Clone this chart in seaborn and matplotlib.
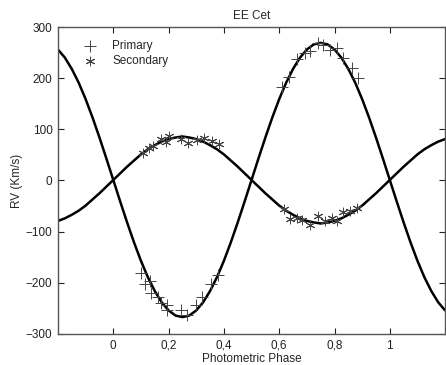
import numpy as np
import pandas as pd
import matplotlib
matplotlib.use('Agg')
from matplotlib import pyplot as plt
import seaborn as sns

prim_phase = [0.100, 0.114, 0.133, 0.136, 0.160, 0.172, 0.193, 0.196, 0.244, 0.265, 0.298, 0.322, 0.355, 0.380,
              0.610, 0.634, 0.664, 0.694, 0.712, 0.742, 0.760, 0.784, 0.808, 0.832, 0.862, 0.884]
prim_rv = [-181, -202, -196, -219, -228, -240, -243, -253, -254, -263, -243, -227, -202, -185,
           183, 203, 237, 249, 254, 268, 265, 255, 258, 239, 219, 200]

sec_phase = [0.106, 0.130, 0.144, 0.172, 0.190, 0.202, 0.244, 0.271, 0.304, 0.328, 0.358, 0.382,
             0.616, 0.640, 0.664, 0.682, 0.712, 0.742, 0.766, 0.790, 0.808, 0.832, 0.856, 0.880]
sec_rv = [53, 63, 67, 82, 76, 87, 82, 74, 79, 84, 78, 71,
          -56, -75, -74, -77, -87, -69, -80, -74, -79, -62, -60, -53]

# フィット曲線（-0.2〜1.2、0.025刻みで読み取り）
curve_phase = np.linspace(-0.2, 1.2, 57)
curve_prim = [256, 240, 218, 191, 159, 123, 84, 43, 1, -41, -82, -121, -157, -189, -216, -238, -254, -264, -267,
              -264, -254, -238, -216, -189, -157, -121, -82, -41, 1, 43, 84, 123, 159, 191, 218, 240, 256, 266, 269,
              266, 256, 240, 218, 191, 159, 123, 84, 43, 1, -41, -82, -121, -157, -189, -216, -238, -254]
curve_sec = [-79, -74, -67, -59, -49, -37, -25, -12, 1, 14, 27, 39, 51, 61, 69, 76, 81, 84, 86,
             84, 81, 76, 69, 61, 51, 39, 27, 14, 1, -12, -25, -37, -49, -59, -67, -74, -79, -82, -84,
             -82, -79, -74, -67, -59, -49, -37, -25, -12, 1, 14, 27, 39, 51, 61, 69, 76, 81]

x_ticks = [0, 0.2, 0.4, 0.6, 0.8, 1]
x_labels = ['0', '0,2', '0,4', '0,6', '0,8', '1']
y_ticks = [-300, -200, -100, 0, 100, 200, 300]

sns.set_style('ticks')
plt.rcParams['font.family'] = ['Liberation Sans', 'DejaVu Sans']

fig = plt.figure(figsize=(4.46, 3.65), dpi=100)
ax = fig.add_axes([0.130, 0.085, 0.868, 0.841])

curves = pd.DataFrame({'phase': curve_phase, 'prim': curve_prim, 'sec': curve_sec})
sns.lineplot(x='phase', y='prim', data=curves, sort=False, estimator=None, color='black', lw=1.8, ax=ax)
sns.lineplot(x='phase', y='sec', data=curves, sort=False, estimator=None, color='black', lw=1.8, ax=ax)

sns.scatterplot(x=prim_phase, y=prim_rv, marker='+', s=65, color='#444444', linewidth=0.7,
                label='Primary', ax=ax, zorder=3)
sns.scatterplot(x=sec_phase, y=sec_rv, marker=(6, 2, 0), s=40, color='#444444', linewidth=0.7,
                label='Secondary', ax=ax, zorder=3)

ax.set_xlim(-0.2, 1.2)
ax.set_ylim(-300, 300)
ax.set_xticks(x_ticks)
ax.set_xticklabels(x_labels)
ax.set_yticks(y_ticks)
ax.tick_params(direction='in', length=4, width=0.8, labelsize=8.5, colors='#222222',
               top=True, right=True, pad=4)
for sp in ax.spines.values():
    sp.set_color('#555555')
    sp.set_linewidth(1.0)

ax.set_title('EE Cet', fontsize=8.5, pad=6)
ax.set_xlabel('Photometric Phase', fontsize=8.5, labelpad=1)
ax.set_ylabel('RV (Km/s)', fontsize=8.5, labelpad=2)

ax.legend(loc='upper left', frameon=False, fontsize=8.5, handletextpad=0.9,
          borderaxespad=0.3, labelspacing=0.25, bbox_to_anchor=(0.03, 0.985))

fig.savefig('out.png', dpi=100)
